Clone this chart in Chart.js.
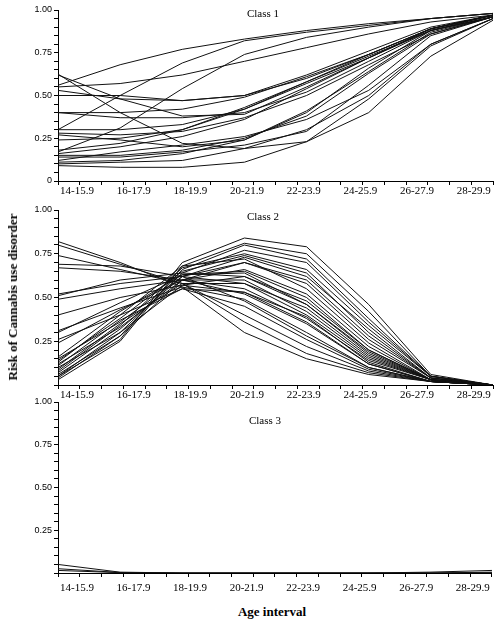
<!DOCTYPE html>
<html>
<head>
<meta charset="utf-8">
<script src="https://cdn.jsdelivr.net/npm/chart.js@4.4.1/dist/chart.umd.min.js"></script>
<style>
  body { margin: 0; background: #fff; }
  #wrap { position: relative; width: 499px; height: 621px; overflow: hidden; }
  canvas { position: absolute; left: 0; }
  .ttl { position: absolute; font-family: 'Liberation Serif', 'Times New Roman', serif; font-size: 11px; color: #000; transform: translateX(-50%); white-space: nowrap; }
  .axt { position: absolute; font-family: 'Liberation Serif', 'Times New Roman', serif; font-weight: bold; font-size: 13px; color: #000; white-space: nowrap; }
</style>
</head>
<body>
<div id="wrap">
  <canvas id="c1" width="499" height="202" style="top:0px"></canvas>
  <canvas id="c2" width="499" height="205" style="top:200px"></canvas>
  <canvas id="c3" width="499" height="205" style="top:392px"></canvas>
  <div class="ttl" style="left:263px; top:7px">Class 1</div>
  <div class="ttl" style="left:263px; top:210px">Class 2</div>
  <div class="ttl" style="left:265px; top:414px">Class 3</div>
  <div class="axt" style="left:13px; top:297px; transform: translate(-50%,-50%) rotate(-90deg);">Risk of Cannabis use disorder</div>
  <div class="axt" style="left:272px; top:612px; transform: translate(-50%,-50%);">Age interval</div>
</div>
<script>
// categorias de edad
var ageLabels = ['14-15.9', '16-17.9', '18-19.9', '20-21.9', '22-23.9', '24-25.9', '26-27.9', '28-29.9'];

// Class 1: riesgo creciente
var class1 = [
  [0.56, 0.68, 0.77, 0.83, 0.88, 0.92, 0.95, 0.98],
  [0.30, 0.50, 0.69, 0.82, 0.87, 0.91, 0.95, 0.98],
  [0.17, 0.31, 0.54, 0.74, 0.84, 0.90, 0.95, 0.98],
  [0.55, 0.57, 0.62, 0.70, 0.78, 0.86, 0.93, 0.97],
  [0.62, 0.48, 0.38, 0.39, 0.55, 0.72, 0.88, 0.96],
  [0.625, 0.40, 0.22, 0.19, 0.30, 0.50, 0.80, 0.95],
  [0.53, 0.48, 0.47, 0.50, 0.62, 0.76, 0.90, 0.97],
  [0.50, 0.50, 0.47, 0.50, 0.60, 0.74, 0.89, 0.97],
  [0.40, 0.40, 0.42, 0.49, 0.61, 0.74, 0.89, 0.97],
  [0.40, 0.37, 0.37, 0.40, 0.52, 0.70, 0.88, 0.96],
  [0.30, 0.30, 0.33, 0.42, 0.57, 0.72, 0.89, 0.97],
  [0.28, 0.27, 0.29, 0.37, 0.50, 0.68, 0.86, 0.96],
  [0.27, 0.24, 0.20, 0.24, 0.41, 0.64, 0.87, 0.96],
  [0.24, 0.25, 0.30, 0.42, 0.58, 0.73, 0.88, 0.97],
  [0.18, 0.22, 0.30, 0.43, 0.58, 0.74, 0.89, 0.97],
  [0.16, 0.20, 0.26, 0.36, 0.54, 0.72, 0.89, 0.97],
  [0.15, 0.15, 0.18, 0.25, 0.38, 0.63, 0.86, 0.96],
  [0.12, 0.17, 0.21, 0.26, 0.36, 0.53, 0.80, 0.95],
  [0.11, 0.12, 0.16, 0.24, 0.40, 0.66, 0.88, 0.96],
  [0.10, 0.11, 0.12, 0.19, 0.23, 0.48, 0.79, 0.95],
  [0.09, 0.08, 0.08, 0.11, 0.23, 0.40, 0.73, 0.94],
  [0.14, 0.14, 0.17, 0.21, 0.29, 0.56, 0.85, 0.96]
];

// Class 2: pico en 18-22
var class2 = [
  [0.82, 0.70, 0.56, 0.30, 0.15, 0.06, 0.02, 0.00],
  [0.80, 0.69, 0.58, 0.36, 0.18, 0.07, 0.02, 0.00],
  [0.74, 0.66, 0.58, 0.40, 0.22, 0.08, 0.02, 0.00],
  [0.69, 0.68, 0.62, 0.48, 0.28, 0.10, 0.02, 0.00],
  [0.67, 0.65, 0.60, 0.52, 0.35, 0.12, 0.02, 0.00],
  [0.52, 0.58, 0.62, 0.58, 0.40, 0.15, 0.03, 0.00],
  [0.51, 0.60, 0.64, 0.62, 0.46, 0.18, 0.03, 0.00],
  [0.49, 0.55, 0.60, 0.55, 0.38, 0.14, 0.03, 0.00],
  [0.40, 0.50, 0.57, 0.53, 0.36, 0.12, 0.02, 0.00],
  [0.31, 0.44, 0.56, 0.49, 0.30, 0.10, 0.02, 0.00],
  [0.30, 0.47, 0.63, 0.65, 0.50, 0.20, 0.03, 0.00],
  [0.26, 0.40, 0.55, 0.45, 0.26, 0.09, 0.02, 0.00],
  [0.24, 0.43, 0.60, 0.60, 0.42, 0.16, 0.03, 0.00],
  [0.15, 0.36, 0.62, 0.70, 0.58, 0.26, 0.04, 0.00],
  [0.14, 0.38, 0.65, 0.74, 0.64, 0.30, 0.04, 0.00],
  [0.12, 0.33, 0.60, 0.66, 0.52, 0.22, 0.03, 0.00],
  [0.10, 0.30, 0.57, 0.62, 0.48, 0.20, 0.03, 0.00],
  [0.06, 0.28, 0.66, 0.80, 0.72, 0.38, 0.05, 0.00],
  [0.05, 0.26, 0.70, 0.84, 0.79, 0.46, 0.06, 0.00],
  [0.03, 0.25, 0.68, 0.81, 0.75, 0.42, 0.05, 0.00],
  [0.05, 0.30, 0.64, 0.77, 0.70, 0.36, 0.05, 0.00],
  [0.07, 0.32, 0.62, 0.73, 0.62, 0.32, 0.04, 0.00],
  [0.04, 0.28, 0.60, 0.70, 0.60, 0.28, 0.04, 0.00],
  [0.08, 0.34, 0.67, 0.75, 0.66, 0.34, 0.05, 0.00],
  [0.13, 0.40, 0.68, 0.72, 0.55, 0.24, 0.03, 0.00],
  [0.09, 0.35, 0.58, 0.58, 0.44, 0.17, 0.03, 0.00],
  [0.11, 0.37, 0.55, 0.53, 0.39, 0.13, 0.02, 0.00],
  [0.16, 0.42, 0.63, 0.64, 0.46, 0.19, 0.03, 0.00]
];

// Class 3: casi cero
var class3 = [
  [0.05, 0.005, 0.00, 0.00, 0.00, 0.00, 0.005, 0.015],
  [0.025, 0.003, 0.00, 0.00, 0.00, 0.00, 0.00, 0.005],
  [0.015, 0.002, 0.00, 0.00, 0.00, 0.00, 0.00, 0.002]
];

var yTickLabels = { 100: '1.00', 75: '0.75', 50: '0.50', 25: '0.25' };

var serif = "'Liberation Serif', 'Times New Roman', serif";
var sans = "'Liberation Sans', Arial, sans-serif";

function makeChart(id, series, showZero, padTop, xHeight, labelPad) {
    var ctx = document.getElementById(id).getContext('2d');
    return new Chart(ctx, {
        type: 'line',
        data: {
            datasets: series.map(function (s) {
                return {
                    xAxisID: 'x',
                    yAxisID: 'y',
                    data: s.map(function (v, i) { return { x: i, y: v }; }),
                    borderColor: '#111',
                    borderWidth: 1,
                    pointRadius: 0,
                    tension: 0,
                    fill: false
                };
            })
        },
        options: {
            responsive: false,
            animation: false,
            layout: { padding: { top: padTop, right: 6, left: 0, bottom: 0 } },
            plugins: { legend: { display: false }, tooltip: { enabled: false } },
            scales: {
                xt: {
                    type: 'linear', position: 'bottom', weight: 0,
                    min: 0, max: 20,
                    ticks: { stepSize: 1, autoSkip: false, callback: function () { return ''; } },
                    grid: { drawOnChartArea: false, tickLength: 4, color: '#000' },
                    border: { display: false },
                    afterFit: function (s) { s.height = 0; }
                },
                x: {
                    type: 'linear', position: 'bottom', weight: 1,
                    min: 0, max: 7,
                    afterBuildTicks: function (s) {
                        // etiquetas desplazadas respecto a los puntos, como en el original
                        s.ticks = ageLabels.map(function (_, i) { return { value: 0.306 + i * 0.912 }; });
                    },
                    ticks: {
                        autoSkip: false, maxRotation: 0, padding: labelPad, color: '#000',
                        font: { family: serif, size: 11 },
                        callback: function (v, i) { return ageLabels[i]; }
                    },
                    grid: { display: false, drawTicks: false },
                    border: { display: true, color: '#000', width: 1 },
                    afterFit: function (s) { s.height = xHeight; }
                },
                y: {
                    min: 0, max: 1,
                    ticks: {
                        stepSize: 0.05, autoSkip: false, padding: 2, color: '#000',
                        font: { family: sans, size: 9 },
                        callback: function (v) {
                            var k = Math.round(v * 100);
                            if (k === 0) return showZero ? '0' : '';
                            return yTickLabels[k] || '';
                        }
                    },
                    grid: { drawOnChartArea: false, tickLength: 4, color: '#000' },
                    border: { display: true, color: '#000', width: 1 },
                    afterFit: function (s) { s.width = 58; }
                }
            }
        }
    });
}

makeChart('c1', class1, true, 10, 21, 4);
makeChart('c2', class2, false, 10, 20, 4);
makeChart('c3', class3, false, 10, 24, 9);
</script>
</body>
</html>
